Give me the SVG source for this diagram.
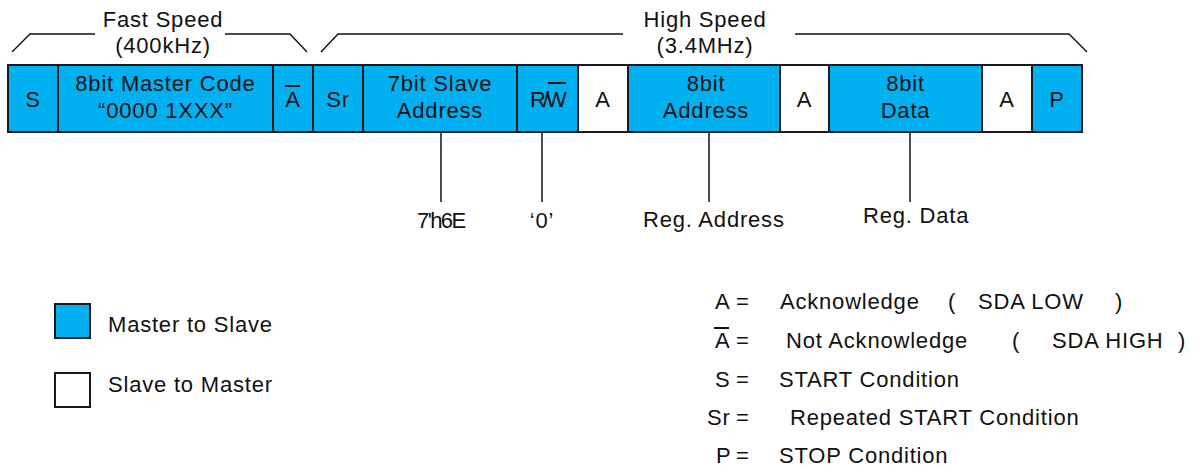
<svg xmlns="http://www.w3.org/2000/svg" width="1199" height="470" viewBox="0 0 1199 470">
<style>
text{font-family:"Liberation Sans",Arial,sans-serif;font-size:22px;fill:#111;letter-spacing:0.8px}
.c{text-anchor:middle}
.m{fill:#00B0F0;stroke:#1a1a1a;stroke-width:2}
.s{fill:#ffffff;stroke:#1a1a1a;stroke-width:2}
.br{fill:none;stroke:#111;stroke-width:1.4}
.ln{stroke:#111;stroke-width:1.5;fill:none}
.ov{stroke:#111;stroke-width:2}
</style>
<rect width="1199" height="470" fill="#fff"/>
<g id="brackets">
<polyline class="br" points="12,52 30,34 95,34"/>
<polyline class="br" points="225,34 290,34 307,52"/>
<polyline class="br" points="321,52 338,34 623,34"/>
<polyline class="br" points="795,34 1069,34 1087,52"/>
<text class="c" x="163" y="27">Fast Speed</text>
<text class="c" x="163" y="53">(400kHz)</text>
<text class="c" x="705" y="27">High Speed</text>
<text class="c" x="705" y="53">(3.4MHz)</text>
</g>
<g id="connectors">
<line class="ln" x1="441" y1="132" x2="441" y2="202"/>
<line class="ln" x1="542" y1="132" x2="542" y2="202"/>
<line class="ln" x1="709" y1="132" x2="709" y2="202"/>
<line class="ln" x1="910" y1="132" x2="910" y2="202"/>
</g>
<g id="n-S"><rect class="m" x="8" y="65" width="50" height="67"/><text class="c" x="33" y="107">S</text></g>
<g id="n-master"><rect class="m" x="58" y="65" width="215" height="67"/><text class="c" x="165.5" y="91">8bit Master Code</text><text class="c" x="165.5" y="118">“0000 1XXX”</text></g>
<g id="n-nack"><rect class="m" x="273" y="65" width="40" height="67"/><text class="c" x="293" y="107">A</text><line class="ov" x1="285" y1="86" x2="300" y2="86"/></g>
<g id="n-Sr"><rect class="m" x="313" y="65" width="50" height="67"/><text class="c" x="338" y="107">Sr</text></g>
<g id="n-slave"><rect class="m" x="363" y="65" width="154" height="67"/><text class="c" x="440" y="91">7bit Slave</text><text class="c" x="440" y="118">Address</text></g>
<g id="n-rw"><rect class="m" x="517" y="65" width="61" height="67"/><text x="530" y="107" style="letter-spacing:-3px">R/W</text><line class="ov" x1="548" y1="83" x2="566" y2="83"/></g>
<g id="n-ack1"><rect class="s" x="578" y="65" width="50" height="67"/><text class="c" x="603" y="107">A</text></g>
<g id="n-addr"><rect class="m" x="628" y="65" width="152" height="67"/><text class="c" x="706" y="91">8bit</text><text class="c" x="706" y="118">Address</text></g>
<g id="n-ack2"><rect class="s" x="780" y="65" width="49" height="67"/><text class="c" x="804.5" y="107">A</text></g>
<g id="n-data"><rect class="m" x="829" y="65" width="153" height="67"/><text class="c" x="905.5" y="91">8bit</text><text class="c" x="905.5" y="118">Data</text></g>
<g id="n-ack3"><rect class="s" x="982" y="65" width="50" height="67"/><text class="c" x="1007" y="107">A</text></g>
<g id="n-P"><rect class="m" x="1032" y="65" width="50" height="67"/><text class="c" x="1057" y="107">P</text></g>
<g id="labels">
<text x="417" y="228" style="letter-spacing:-1.6px">7'h6E</text>
<text class="c" x="542" y="228">‘0’</text>
<text x="643" y="227">Reg. Address</text>
<text x="863" y="223">Reg. Data</text>
</g>
<g id="legend-colors">
<rect class="m" x="55" y="304" width="35" height="34"/>
<text x="108" y="332">Master to Slave</text>
<rect class="s" x="55" y="373" width="35" height="34"/>
<text x="108" y="392">Slave to Master</text>
</g>
<g id="legend-symbols">
<text x="715" y="309">A</text><text x="736" y="309">=</text>
<text x="780" y="309">Acknowledge</text><text x="948" y="309">(</text><text x="978" y="309">SDA LOW</text><text x="1115" y="309">)</text>
<text x="715" y="348">A</text><line class="ov" x1="714" y1="328" x2="729" y2="328"/><text x="736" y="348">=</text>
<text x="786" y="348">Not Acknowledge</text><text x="1012" y="348">(</text><text x="1052" y="348">SDA HIGH</text><text x="1178" y="348">)</text>
<text x="715" y="387">S</text><text x="736" y="387">=</text><text x="779" y="387">START Condition</text>
<text x="707" y="425">Sr</text><text x="736" y="425">=</text><text x="790" y="425">Repeated START Condition</text>
<text x="716" y="463">P</text><text x="736" y="463">=</text><text x="779" y="463">STOP Condition</text>
</g>
</svg>
